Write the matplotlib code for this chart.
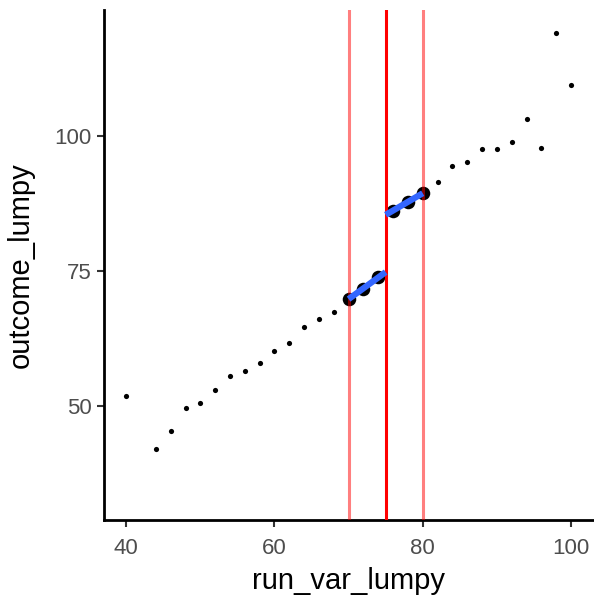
import matplotlib
matplotlib.use("Agg")
import matplotlib.pyplot as plt
import numpy as np

run_var_lumpy = [40, 44, 46, 48, 50, 52, 54, 56, 58, 60, 62, 64, 66, 68,
                 70, 72, 74, 76, 78, 80, 82, 84, 86, 88, 90, 92, 94, 96, 98, 100]
outcome_lumpy = [51.8, 42.0, 45.3, 49.6, 50.5, 53.0, 55.5, 56.5, 58.0, 60.2, 61.6, 64.6, 66.1, 67.5,
                 69.9, 71.6, 73.9, 86.2, 87.8, 89.4, 91.5, 94.4, 95.1, 97.5, 97.5, 98.8, 103.1, 97.7, 119.1, 109.4]
cutoff = 75
bandwidth = 5
x_ticks = [40, 60, 80, 100]
y_ticks = [50, 75, 100]

plt.rcParams['font.family'] = ['Liberation Sans', 'DejaVu Sans']
fig = plt.figure(figsize=(5.94, 5.95), dpi=100)
ax = fig.add_axes([0.175, 0.126, 0.825, 0.857])

x = np.array(run_var_lumpy)
y = np.array(outcome_lumpy)
ax.scatter(x, y, s=14, color='black', zorder=2, linewidths=0)
win = (x >= cutoff - bandwidth) & (x <= cutoff + bandwidth)
ax.scatter(x[win], y[win], s=95, color='black', zorder=3, linewidths=0)

for xv, c, a in [(cutoff - bandwidth, 'red', 0.5), (cutoff, 'red', 1.0), (cutoff + bandwidth, 'red', 0.5)]:
    ax.axvline(xv, color=c, alpha=a, lw=2.2, zorder=4)

left = (x >= cutoff - bandwidth) & (x < cutoff)
right = (x >= cutoff) & (x <= cutoff + bandwidth)
for mask, lo, hi in [(left, cutoff - bandwidth, cutoff), (right, cutoff, cutoff + bandwidth)]:
    b, a0 = np.polyfit(x[mask], y[mask], 1)
    xs = np.array([lo, hi])
    ax.plot(xs, a0 + b * xs, color='#3366FF', lw=4.5, zorder=5, solid_capstyle='butt')

ax.set_xlim(37.0, 103.1)
ax.set_ylim(28.9, 123.3)
ax.set_xticks(x_ticks)
ax.set_yticks(y_ticks)
for s in ['top', 'right']:
    ax.spines[s].set_visible(False)
for s in ['left', 'bottom']:
    ax.spines[s].set_linewidth(2)
    ax.spines[s].set_color('black')
ax.tick_params(axis='both', colors='#333333', labelcolor='#4D4D4D', labelsize=16, length=5, width=1.5)
ax.tick_params(axis='x', pad=8)
ax.tick_params(axis='y', pad=4)
ax.set_xlabel('run_var_lumpy', fontsize=21, color='black', labelpad=6)
ax.set_ylabel('outcome_lumpy', fontsize=21, color='black', labelpad=14)

fig.savefig('out.png', dpi=100)
